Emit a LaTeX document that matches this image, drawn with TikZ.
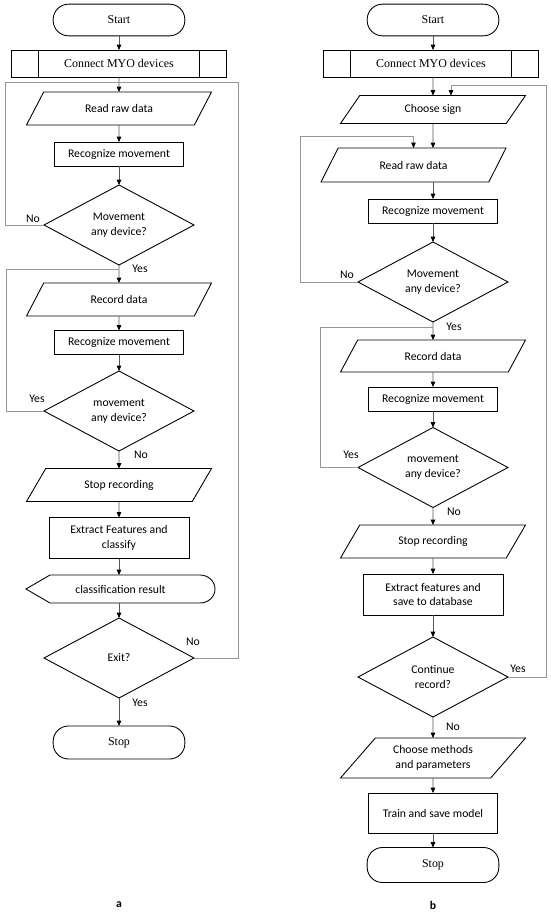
\documentclass[tikz,border=0pt]{standalone}
\usepackage{fontspec}
\setmainfont{Carlito}
\newfontfamily\capfont{Liberation Serif}
\usetikzlibrary{shapes.geometric,arrows.meta}
\definecolor{lineGray}{RGB}{85,85,85}
\definecolor{loopGray}{RGB}{150,150,150}
\tikzset{
  every node/.style={font=\fontsize{10}{12.5}\selectfont,outer sep=0pt},
  term/.style={draw,line width=0.75pt,rounded corners=0.46cm,minimum width=3.95cm,minimum height=0.95cm,font=\capfont\fontsize{10.2}{12}\selectfont},
  subproc/.style={draw,line width=0.75pt,minimum width=6.45cm,minimum height=0.81cm,font=\capfont\fontsize{10.2}{12}\selectfont,
    path picture={\draw[line width=0.75pt] ([xshift=0.81cm]path picture bounding box.north west) -- ([xshift=0.81cm]path picture bounding box.south west)
      ([xshift=-0.81cm]path picture bounding box.north east) -- ([xshift=-0.81cm]path picture bounding box.south east);}},
  io/.style={draw,line width=0.75pt,trapezium,trapezium left angle=43,trapezium right angle=137,trapezium stretches body,
    minimum width=5.55cm,minimum height=0.99cm,inner xsep=0pt,align=center},
  proc/.style={draw,line width=0.75pt,minimum width=3.87cm,minimum height=0.72cm,align=center},
  decision/.style={draw,line width=0.75pt,diamond,aspect=1.875,minimum width=4.5cm,minimum height=2.4cm,inner sep=0pt,align=center},
  disp/.style={minimum width=5.67cm,minimum height=0.84cm},
  arr/.style={draw=lineGray,line width=0.6pt,-{Triangle[length=4.5pt,width=3.8pt,color=black]}},
  loopline/.style={draw=loopGray,line width=0.6pt},
  lbl/.style={inner sep=0pt}
}

\begin{document}
\begin{tikzpicture}[x=0.03cm,y=-0.03cm]
\useasboundingbox (0,0) rectangle (550,914);

% chart a
\node[term] (sa) at (119,20) {Start};
\node[subproc] (ca) at (119,63.5) {Connect MYO devices};
\node[io] (rra) at (119,108.5) {Read raw data};
\node[proc] (rma) at (119,154) {Recognize movement};
\node[decision] (da1) at (119,225) {Movement\\any device?};
\node[io] (rda) at (119,299.5) {Record data};
\node[proc] (rga) at (119,342.5) {Recognize movement};
\node[decision] (da2) at (119,411) {movement\\any device?};
\node[io] (sra) at (119,485) {Stop recording};
\node[proc,minimum width=4.2cm,minimum height=1.23cm] (efa) at (119,538) {Extract Features and\\classify};
\node[disp] (cra) at (120.5,589) {classification result};
\draw[line width=0.75pt] ([xshift=0.72cm]cra.north west) -- (cra.west) -- ([xshift=0.72cm]cra.south west)
  -- ([xshift=-0.45cm]cra.south east) arc[start angle=-90,end angle=90,x radius=0.45cm,y radius=0.42cm] -- cycle;
\node[decision] (exa) at (119,658) {Exit?};
\node[term,minimum height=0.99cm] (spa) at (119,742.5) {Stop};

\draw[arr] (sa) -- (ca);
\draw[arr] (ca) -- (rra);
\draw[arr] (rra) -- (rma);
\draw[arr] (rma) -- (da1);
\draw[arr] (da1) -- (rda);
\draw[arr] (rda) -- (rga);
\draw[arr] (rga) -- (da2);
\draw[arr] (da2) -- (sra);
\draw[arr] (sra) -- (efa);
\draw[arr] (efa) -- (cra.north -| efa);
\draw[arr] (cra.south -| exa) -- (exa);
\draw[arr] (exa) -- (spa);

\coordinate (nl1) at (5,82);
\coordinate (nr1) at (238,82);
\coordinate (yl2) at (6,269);
\draw[loopline] (da1.west) -| (nl1) -- (nl1 -| rra.north);
\draw[loopline] (exa.east) -| (nr1) -- (nr1 -| rra.north);
\draw[loopline] (da2.west) -| (yl2) -- (yl2 -| rda.north);

\node[lbl] at (33,219) {No};
\node[lbl] at (140,269) {Yes};
\node[lbl] at (37,399) {Yes};
\node[lbl] at (141,455) {No};
\node[lbl] at (193,642) {No};
\node[lbl] at (140,703) {Yes};
\node[lbl,font=\bfseries\fontsize{10}{12}\selectfont] at (119,905) {a};

% chart b
\node[term] (sb) at (433,20) {Start};
\node[subproc] (cb) at (431,63.5) {Connect MYO devices};
\node[io,minimum height=0.84cm] (csb) at (433,109.5) {Choose sign};
\node[io,minimum height=1.02cm] (rrb) at (413.5,165) {Read raw data};
\node[proc] (rmb) at (433,211) {Recognize movement};
\node[decision] (db1) at (433,282) {Movement\\any device?};
\node[io,minimum height=0.96cm] (rdb) at (433,356) {Record data};
\node[proc] (rgb) at (433,399) {Recognize movement};
\node[decision] (db2) at (433,467.5) {movement\\any device?};
\node[io] (srb) at (433,541.5) {Stop recording};
\node[proc,minimum width=4.2cm,minimum height=1.23cm] (efb) at (433,594.5) {Extract features and\\save to database};
\node[decision] (db3) at (433,677) {Continue\\record?};
\node[io,minimum height=1.2cm] (cmb) at (433,758) {Choose methods\\and parameters};
\node[proc,minimum height=1.2cm] (tmb) at (433,813) {Train and save model};
\node[term,minimum height=1.05cm] (spb) at (433,865) {Stop};

\draw[arr] (sb) -- (sb |- cb.north);
\draw[arr] (cb.south -| csb) -- (csb);
\draw[arr] (csb) -- (csb |- rrb.north);
\draw[arr] (rrb.south -| rmb) -- (rmb);
\draw[arr] (rmb) -- (db1);
\draw[arr] (db1) -- (rdb);
\draw[arr] (rdb) -- (rgb);
\draw[arr] (rgb) -- (db2);
\draw[arr] (db2) -- (srb);
\draw[arr] (srb) -- (efb);
\draw[arr] (efb) -- (db3);
\draw[arr] (db3) -- (cmb);
\draw[arr] (cmb) -- (tmb);
\draw[arr] (tmb) -- (spb);

\coordinate (nb1) at (300,136);
\coordinate (yb2) at (320,327);
\coordinate (rb3) at (546,85);
\draw[loopline,arr,draw=loopGray] (db1.west) -| (nb1) -| (rrb.north);
\draw[loopline] (db2.west) -| (yb2) -- (yb2 -| rdb.north);
\draw[loopline,arr,draw=loopGray] (db3.east) -| (rb3) -| ([xshift=0.54cm]csb.north);

\node[lbl] at (347,275) {No};
\node[lbl] at (454,327) {Yes};
\node[lbl] at (351,455) {Yes};
\node[lbl] at (454,512) {No};
\node[lbl] at (518,669) {Yes};
\node[lbl] at (453,727) {No};
\node[lbl,font=\bfseries\fontsize{10}{12}\selectfont] at (433,905) {b};
\end{tikzpicture}
\end{document}
